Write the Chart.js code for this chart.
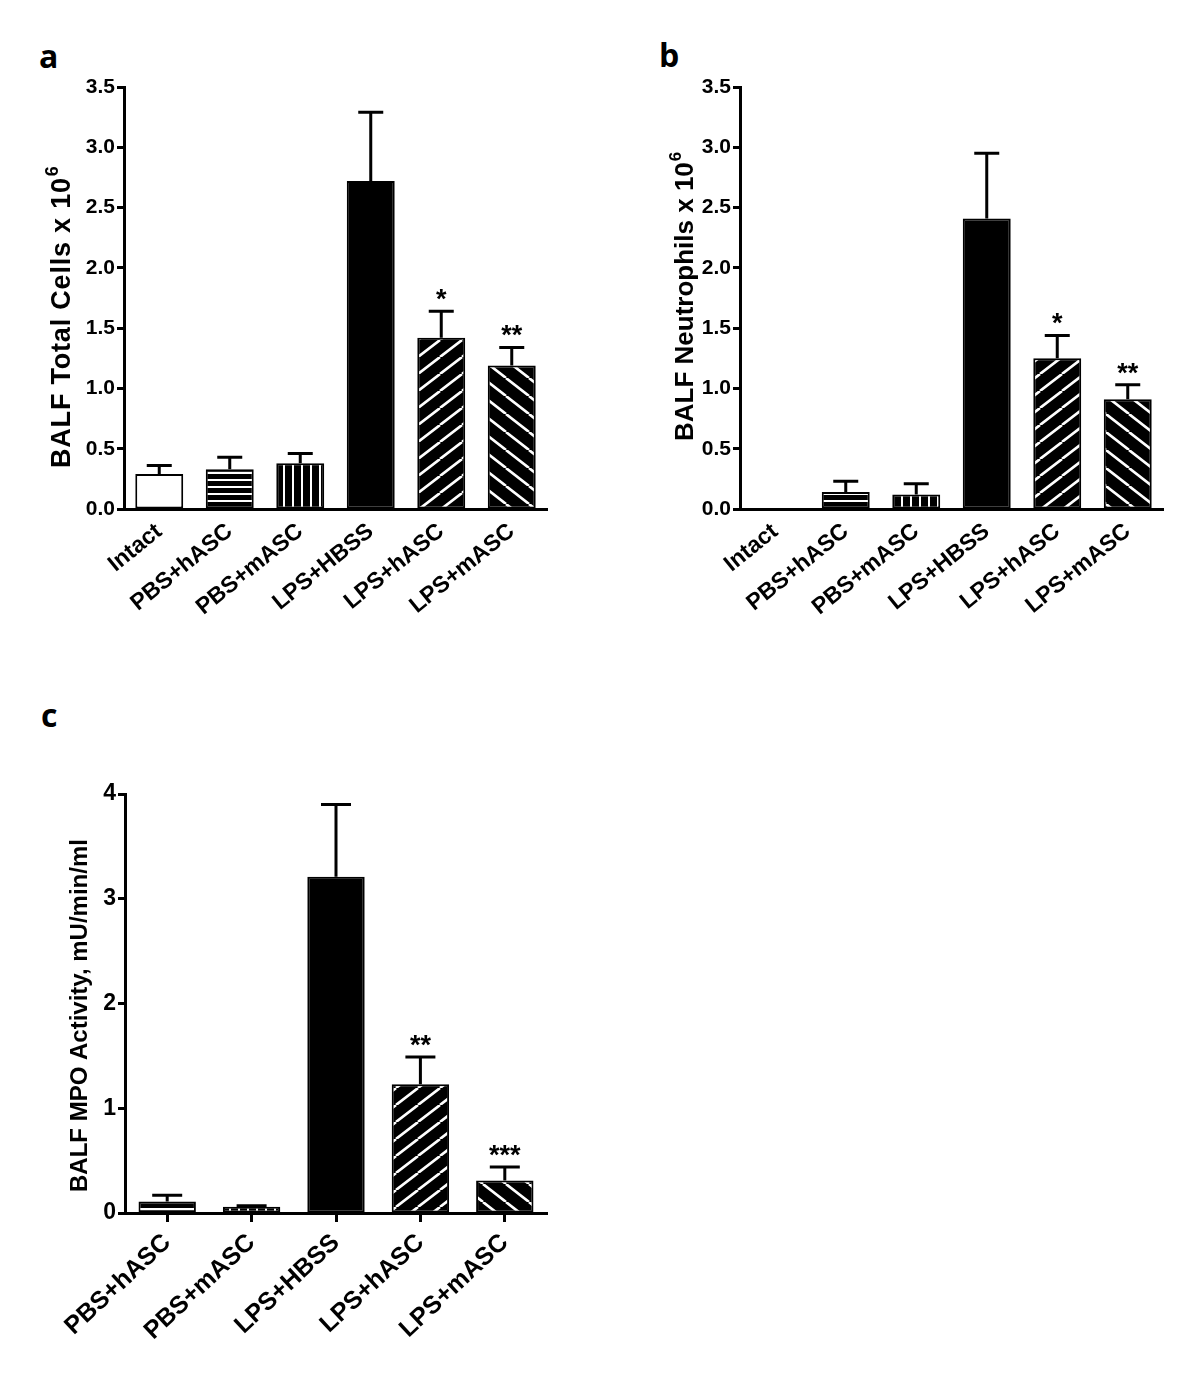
<!DOCTYPE html>
<html>
<head>
<meta charset="utf-8">
<script src="https://cdn.jsdelivr.net/npm/chart.js@4.4.1/dist/chart.umd.min.js"></script>
<style>
  body { margin: 0; background: #fff; }
  #page { position: relative; width: 1200px; height: 1378px; overflow: hidden; }
  canvas { position: absolute; }
  .panel { position: absolute; font: bold 32px "Open Sans", sans-serif; line-height: 32px; color: #000; }
</style>
</head>
<body>
<div id="page">
  <div class="panel" style="left:39px;top:40px">a</div>
  <div class="panel" style="left:659px;top:39px">b</div>
  <div class="panel" style="left:41px;top:699px">c</div>
  <canvas id="chartA" width="600" height="660" style="left:0;top:0"></canvas>
  <canvas id="chartB" width="600" height="660" style="left:600px;top:0"></canvas>
  <canvas id="chartC" width="600" height="698" style="left:0;top:680px"></canvas>
</div>
<script>
// categories
const groupsAB = ['Intact', 'PBS+hASC', 'PBS+mASC', 'LPS+HBSS', 'LPS+hASC', 'LPS+mASC'];
const groupsC = ['PBS+hASC', 'PBS+mASC', 'LPS+HBSS', 'LPS+hASC', 'LPS+mASC'];

// a: BALF total cells (x 10^6), mean and SEM
const totalCells = [0.29, 0.33, 0.38, 2.72, 1.42, 1.19];
const totalCellsSem = [0.07, 0.10, 0.08, 0.57, 0.22, 0.15];
const totalCellsStars = ['', '', '', '', '*', '**'];

// b: BALF neutrophils (x 10^6)
const neutrophils = [null, 0.14, 0.12, 2.41, 1.25, 0.91];
const neutrophilsSem = [null, 0.09, 0.09, 0.54, 0.19, 0.12];
const neutrophilsStars = ['', '', '', '', '*', '**'];

// c: BALF MPO activity, mU/min/ml
const mpo = [0.11, 0.06, 3.21, 1.23, 0.31];
const mpoSem = [0.06, 0.01, 0.69, 0.26, 0.13];
const mpoStars = ['', '', '', '**', '***'];

const FONT = "'Liberation Sans', Arial, sans-serif";

// fill patterns like the Prism bars
function stripePattern(w, h, draw) {
    const c = document.createElement('canvas');
    c.width = w; c.height = h;
    const g = c.getContext('2d');
    g.fillStyle = '#000';
    g.fillRect(0, 0, w, h);
    g.fillStyle = '#fff';
    g.strokeStyle = '#fff';
    draw(g, w, h);
    return c.getContext('2d').createPattern(c, 'repeat');
}

const hStripes = stripePattern(8, 7, (g, w) => g.fillRect(0, 3, w, 2));
const vStripes = stripePattern(9, 8, (g, w, h) => g.fillRect(4, 0, 2, h));
const diagUp = stripePattern(22, 17, (g, w, h) => {
    g.lineWidth = 2.6;
    g.beginPath();
    for (let k = -1; k <= 1; k++) {
        g.moveTo(k * w, h);
        g.lineTo(k * w + w, 0);
    }
    g.stroke();
});
const diagDown = stripePattern(23, 18, (g, w, h) => {
    g.lineWidth = 2.6;
    g.beginPath();
    for (let k = -1; k <= 1; k++) {
        g.moveTo(k * w, 0);
        g.lineTo(k * w + w, h);
    }
    g.stroke();
});

const fillsAB = ['#fff', hStripes, vStripes, '#000', diagUp, diagDown];
const fillsC = [hStripes, vStripes, '#000', diagUp, diagDown];

// error bars (upper whisker only) + significance stars
function errorBars(values, sems, stars, cap, starSize) {
    return {
        id: 'errorBars',
        afterDatasetsDraw(chart) {
            const ctx = chart.ctx;
            const y = chart.scales.y;
            const meta = chart.getDatasetMeta(0);
            ctx.save();
            ctx.strokeStyle = '#000';
            ctx.fillStyle = '#000';
            ctx.lineWidth = 3;
            meta.data.forEach((bar, i) => {
                if (values[i] == null || sems[i] == null) return;
                const top = y.getPixelForValue(values[i] + sems[i]);
                ctx.beginPath();
                ctx.moveTo(bar.x, bar.y);
                ctx.lineTo(bar.x, top);
                ctx.moveTo(bar.x - cap / 2, top);
                ctx.lineTo(bar.x + cap / 2, top);
                ctx.stroke();
                if (stars[i]) {
                    ctx.font = 'bold ' + starSize + 'px ' + FONT;
                    ctx.textAlign = 'center';
                    ctx.textBaseline = 'alphabetic';
                    ctx.fillText(stars[i], bar.x, top - 3);
                }
            });
            ctx.restore();
        }
    };
}

// rotated y title with optional superscript
function yTitle(text, sup, x, yBottom, size, spacing) {
    return {
        id: 'yTitle',
        afterDraw(chart) {
            const ctx = chart.ctx;
            ctx.save();
            ctx.translate(x, yBottom);
            ctx.rotate(-Math.PI / 2);
            ctx.fillStyle = '#000';
            ctx.textAlign = 'left';
            ctx.textBaseline = 'middle';
            ctx.letterSpacing = spacing + 'px';
            ctx.font = 'bold ' + size + 'px ' + FONT;
            ctx.fillText(text, 0, 0);
            if (sup) {
                const w = ctx.measureText(text).width;
                ctx.font = 'bold ' + Math.round(size * 0.65) + 'px ' + FONT;
                ctx.fillText(sup, w + 1, -size * 0.38);
            }
            ctx.restore();
        }
    };
}

function makeChart(id, labels, values, sems, stars, fills, o) {
    return new Chart(document.getElementById(id), {
        type: 'bar',
        data: {
            labels: labels,
            datasets: [{
                data: values,
                backgroundColor: fills,
                borderColor: '#000',
                borderWidth: 2,
                borderSkipped: false,
                barPercentage: 0.68,
                categoryPercentage: 1
            }]
        },
        options: {
            animation: false,
            responsive: false,
            devicePixelRatio: 1,
            layout: { padding: { top: o.padTop, right: o.padRight, left: 0, bottom: 0 } },
            plugins: { legend: { display: false }, tooltip: { enabled: false } },
            scales: {
                x: {
                    grid: {
                        display: true, drawOnChartArea: false, offset: false,
                        drawTicks: o.xTicks, tickLength: 9, tickWidth: 3, tickColor: '#000'
                    },
                    border: { display: true, color: '#000', width: 3 },
                    ticks: {
                        color: '#000', autoSkip: false,
                        font: { family: FONT, size: o.xFont, weight: 'bold' },
                        minRotation: o.rot, maxRotation: o.rot, padding: o.xPad
                    },
                    afterFit(s) { s.height = o.xHeight; }
                },
                y: {
                    min: 0, max: o.yMax,
                    grid: { drawOnChartArea: false, tickLength: 7, tickWidth: 3, tickColor: '#000' },
                    border: { color: '#000', width: 3 },
                    ticks: {
                        stepSize: o.step, color: '#000', padding: 2,
                        font: { family: FONT, size: o.yFont, weight: 'bold' },
                        callback: v => v.toFixed(o.dec)
                    },
                    afterFit(s) { s.width = o.yWidth; }
                }
            }
        },
        plugins: [
            errorBars(values, sems, stars, o.cap, o.starSize),
            yTitle(o.title, o.sup, o.titleX, o.titleY, o.titleSize, o.titleSpacing)
        ]
    });
}

makeChart('chartA', groupsAB, totalCells, totalCellsSem, totalCellsStars, fillsAB, {
    yMax: 3.5, step: 0.5, dec: 1, yWidth: 124, xHeight: 151, padTop: 87, padRight: 53,
    xTicks: false, xFont: 23, yFont: 21, rot: 39, xPad: 9, cap: 25, starSize: 27,
    title: 'BALF Total Cells x 10', sup: '6', titleX: 63, titleY: 468, titleSize: 27, titleSpacing: 0.8
});

makeChart('chartB', groupsAB, neutrophils, neutrophilsSem, neutrophilsStars, fillsAB, {
    yMax: 3.5, step: 0.5, dec: 1, yWidth: 140, xHeight: 151, padTop: 87, padRight: 37,
    xTicks: false, xFont: 23, yFont: 21, rot: 39, xPad: 9, cap: 25, starSize: 27,
    title: 'BALF Neutrophils x 10', sup: '6', titleX: 86, titleY: 441, titleSize: 26, titleSpacing: 0
});

makeChart('chartC', groupsC, mpo, mpoSem, mpoStars, fillsC, {
    yMax: 4, step: 1, dec: 0, yWidth: 125, xHeight: 165, padTop: 114, padRight: 53,
    xTicks: true, xFont: 25, yFont: 23, rot: 43, xPad: 6, cap: 30, starSize: 27,
    title: 'BALF MPO Activity, mU/min/ml', sup: '', titleX: 80, titleY: 512, titleSize: 24, titleSpacing: 0
});
</script>
</body>
</html>
